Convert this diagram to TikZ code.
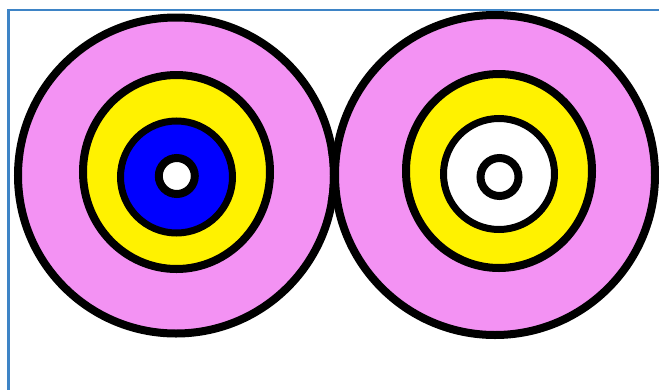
\documentclass[tikz,border=0pt]{standalone}
\usepackage{xcolor}
\usepackage{tikz}

\definecolor{ringpink}{RGB}{243,146,243}
\definecolor{frameblue}{RGB}{62,132,198}

\begin{document}
\begin{tikzpicture}[x=1pt, y=-1pt,
    ring/.style={draw=black, line width=8pt},
    thinring/.style={draw=black, line width=7pt}]
  \useasboundingbox (0,0) rectangle (659,389);
  % panel frame, cut at the right and bottom
  \begin{scope}
    \clip (0,0) rectangle (659,389);
    \draw[frameblue, line width=2.5pt] (8.5,400) -- (8.5,10) -- (670,10);
  \end{scope}
  % left target
  \filldraw[ring, fill=ringpink] (176,175.5) circle (158);
  \filldraw[ring, fill=yellow] (176.5,172) ellipse (93.5 and 97);
  \filldraw[thinring, fill=blue] (176.5,177) circle (56);
  \filldraw[ring, fill=white] (176.8,176) circle (18);
  % right target
  \filldraw[ring, fill=ringpink] (495,175) circle (160);
  \filldraw[ring, fill=yellow] (499,171) ellipse (93 and 97);
  \filldraw[thinring, fill=white] (499,174) circle (55.5);
  \filldraw[ring, fill=white] (499.5,177) circle (19);
  % the two outer rings cross where they meet
  \draw[ring] (176,175.5) ++(-10:158) arc (-10:10:158);
\end{tikzpicture}
\end{document}
